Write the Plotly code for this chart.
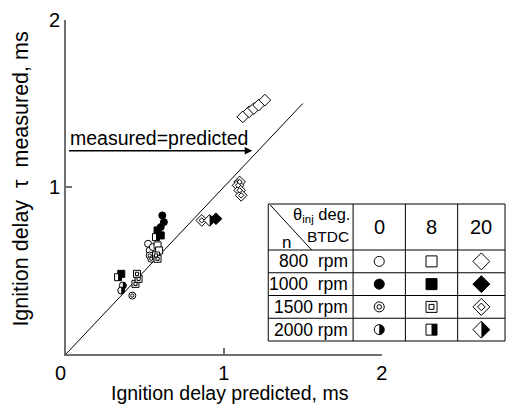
import numpy as np
import plotly.graph_objects as go

FONT = "Liberation Sans, Arial, Helvetica, sans-serif"
INK = "#000000"
AXIS = "#6f6f6f"

# ---- ignition delay, ms: predicted (x) against measured (y) ----
# 800 rpm
pred_800_0 = [0.52, 0.53, 0.55]
meas_800_0 = [0.66, 0.62, 0.64]
pred_800_8 = [0.58, 0.59]
meas_800_8 = [0.65, 0.62]
pred_800_20 = [1.12, 1.16, 1.19, 1.22, 1.26]
meas_800_20 = [1.42, 1.45, 1.47, 1.49, 1.52]
# 1000 rpm
pred_1000_0 = [0.61, 0.62, 0.60]
meas_1000_0 = [0.83, 0.79, 0.76]
pred_1000_8 = [0.58, 0.60, 0.35]
meas_1000_8 = [0.74, 0.71, 0.48]
pred_1000_20 = [0.95]
meas_1000_20 = [0.81]
# 1500 rpm
pred_1500_0 = [0.42, 0.53, 0.54]
meas_1500_0 = [0.35, 0.59, 0.57]
pred_1500_8 = [0.44, 0.46, 0.45, 0.57, 0.58]
meas_1500_8 = [0.42, 0.45, 0.48, 0.59, 0.57]
pred_1500_20 = [1.10, 1.09, 1.10, 1.11, 0.86]
meas_1500_20 = [1.03, 1.01, 0.98, 0.95, 0.80]
# 2000 rpm
pred_2000_0 = [0.36, 0.35]
meas_2000_0 = [0.41, 0.38]
pred_2000_8 = [0.33, 0.57]
meas_2000_8 = [0.46, 0.70]
pred_2000_20 = [0.91]
meas_2000_20 = [0.80]

# reference line measured = predicted
ref_x = [0.0, 1.5]
ref_y = [0.0, 1.5]

speeds = ["800", "1000", "1500", "2000"]
timings = ["0", "8", "20"]
speed_labels = ["800\u00a0\u00a0rpm", "1000\u00a0\u00a0rpm", "1500 rpm", "2000 rpm"]

data = {
    ("800", "0"): (pred_800_0, meas_800_0),
    ("800", "8"): (pred_800_8, meas_800_8),
    ("800", "20"): (pred_800_20, meas_800_20),
    ("1000", "0"): (pred_1000_0, meas_1000_0),
    ("1000", "8"): (pred_1000_8, meas_1000_8),
    ("1000", "20"): (pred_1000_20, meas_1000_20),
    ("1500", "0"): (pred_1500_0, meas_1500_0),
    ("1500", "8"): (pred_1500_8, meas_1500_8),
    ("1500", "20"): (pred_1500_20, meas_1500_20),
    ("2000", "0"): (pred_2000_0, meas_2000_0),
    ("2000", "8"): (pred_2000_8, meas_2000_8),
    ("2000", "20"): (pred_2000_20, meas_2000_20),
}

# marker fill style by engine speed, symbol by injection timing
fill_style = {"800": "open", "1000": "filled", "1500": "ring", "2000": "half"}
symbol_of = {"0": "circle", "8": "square", "20": "diamond"}
size_plot = {"circle": 7, "square": 7, "diamond": 9}
size_table = {"circle": 10, "square": 11, "diamond": 13}

# page frame: plot area spans x 66..386 px, y 20..354 px of a 513x408 page
PAGE_L, PAGE_R, PAGE_T, PAGE_B = 66, 513, 20, 354


def half_path(symbol, size):
    """Right half of a marker outline, in pixels about its centre."""
    r = size / 2.0
    if symbol == "circle":
        a = np.linspace(-np.pi / 2, np.pi / 2, 15)
        pts = list(zip(r * np.cos(a), r * np.sin(a)))
    elif symbol == "square":
        pts = [(0, -r), (r, -r), (r, r), (0, r)]
    else:
        rd = 1.3 * r
        pts = [(0, -rd), (rd, 0), (0, rd)]
    return "M " + " L ".join(f"{x:.2f},{y:.2f}" for x, y in pts) + " Z"


fig = go.Figure()
shapes = []


def add_marks(xs, ys, symbol, style, size, xa, ya):
    face = INK if style == "filled" else "white"
    fig.add_trace(go.Scatter(
        x=xs, y=ys, mode="markers", xaxis=xa, yaxis=ya, cliponaxis=False,
        marker=dict(symbol=symbol, size=size, color=face,
                    line=dict(color=INK, width=1)),
        hoverinfo="skip"))
    if style == "ring":
        fig.add_trace(go.Scatter(
            x=xs, y=ys, mode="markers", xaxis=xa, yaxis=ya, cliponaxis=False,
            marker=dict(symbol=symbol, size=size * 0.45, color="white",
                        line=dict(color=INK, width=1)),
            hoverinfo="skip"))
    if style == "half":
        xr = "x" if xa == "x" else "x2"
        yr = "y" if ya == "y" else "y2"
        for xv, yv in zip(xs, ys):
            shapes.append(dict(type="path", xref=xr, yref=yr,
                               xsizemode="pixel", ysizemode="pixel",
                               xanchor=xv, yanchor=yv,
                               path=half_path(symbol, size),
                               fillcolor=INK, line=dict(width=0)))


# diagonal line
fig.add_trace(go.Scatter(x=ref_x, y=ref_y, mode="lines",
                         line=dict(color=INK, width=1), hoverinfo="skip"))

# measurements
for (sp, tm), (xs, ys) in data.items():
    sym = symbol_of[tm]
    add_marks(xs, ys, sym, fill_style[sp], size_plot[sym], "x", "y")

# ---- key table (pixel frame on the x2/y2 overlay) ----
tbl_left, tbl_right = 271, 511
col_edges = [271, 357, 410, 463, 511]
row_edges = [204, 250, 272.75, 295.5, 318.25, 341]
col_mid = [(col_edges[i] + col_edges[i + 1]) / 2 for i in range(1, 4)]
row_mid = [(row_edges[i] + row_edges[i + 1]) / 2 for i in range(1, 5)]

line_style = dict(color=INK, width=1)
for xe in col_edges:
    shapes.append(dict(type="line", xref="x2", yref="y2", x0=xe, x1=xe,
                       y0=row_edges[0], y1=row_edges[-1], line=line_style))
for ye in row_edges:
    shapes.append(dict(type="line", xref="x2", yref="y2", x0=tbl_left,
                       x1=tbl_right, y0=ye, y1=ye, line=line_style))
shapes.append(dict(type="line", xref="x2", yref="y2", x0=273, x1=315,
                   y0=205, y1=250, line=line_style))

for i, sp in enumerate(speeds):
    for j, tm in enumerate(timings):
        sym = symbol_of[tm]
        add_marks([col_mid[j]], [row_mid[i]], sym, fill_style[sp],
                  size_table[sym], "x2", "y2")

ann = []


def txt(x, y, s, size, xanchor="center", angle=0):
    # positions given in page pixels, placed in paper coordinates
    ann.append(dict(x=(x - PAGE_L) / (PAGE_R - PAGE_L),
                    y=(PAGE_B - y) / (PAGE_B - PAGE_T),
                    xref="paper", yref="paper", text=s, showarrow=False,
                    xanchor=xanchor, yanchor="middle", textangle=angle,
                    font=dict(family=FONT, size=size, color=INK)))


txt(356, 215, "\u03b8<sub>inj</sub>\u00a0deg.", 16.5, "right")
txt(355, 236, "BTDC", 15.5, "right")
txt(290, 242, "n", 17)
for j, tm in enumerate(timings):
    txt(col_mid[j], 227, tm, 20)
for i, lab in enumerate(speed_labels):
    txt(354, row_mid[i], lab, 17.5, "right")

# axis titles and shared origin label
txt(232, 393, "Ignition delay predicted, ms", 19.5)
txt(20, 179, "Ignition delay\u00a0\u00a0\u03c4\u00a0\u00a0measured, ms", 21.5, angle=-90)
txt(60, 373, "0", 20)

# measured = predicted pointer
ann.append(dict(x=1.18, y=1.217, ax=0.01, ay=1.217, xref="x", yref="y",
                axref="x", ayref="y", text="", showarrow=True, arrowhead=2,
                arrowsize=1, arrowwidth=1.5, arrowcolor=INK))
ann.append(dict(x=0.015, y=1.293, xref="x", yref="y", text="measured=predicted",
                showarrow=False, xanchor="left", yanchor="middle",
                font=dict(family=FONT, size=19.5, color=INK)))

axis_common = dict(showline=True, linecolor=AXIS, linewidth=2, ticks="inside",
                   ticklen=6, tickwidth=2, tickcolor=AXIS, showgrid=False,
                   zeroline=False, tickvals=[1, 2], ticktext=["1", "2"],
                   tickfont=dict(family=FONT, size=20, color=INK))

fig.update_layout(
    width=513, height=408,
    margin=dict(l=66, r=0, t=20, b=54),
    paper_bgcolor="white", plot_bgcolor="rgba(0,0,0,0)",
    showlegend=False,
    font=dict(family=FONT, color=INK),
    xaxis=dict(domain=[0, 320 / 447], range=[0, 2], anchor="y", **axis_common),
    yaxis=dict(domain=[0, 1], range=[0, 2], anchor="x", **axis_common),
    xaxis2=dict(domain=[0, 1], range=[66, 513], anchor="y2", visible=False),
    yaxis2=dict(domain=[0, 1], range=[354, 20], anchor="x2", visible=False),
    shapes=shapes,
    annotations=ann,
)

fig.write_html("out.html")
